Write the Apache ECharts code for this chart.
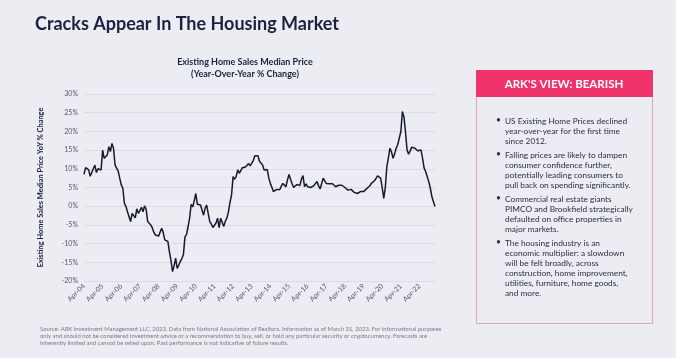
<!DOCTYPE html>
<html><head><meta charset="utf-8">
<script src="https://cdn.jsdelivr.net/npm/echarts@6/dist/echarts.min.js"></script>
<style>html,body{margin:0;padding:0;background:#ecedf3;}#c{width:676px;height:358px;}</style>
</head><body><div id="c"></div>
<script>
// Monthly series, Apr-2004 .. Feb-2023 (YoY % change)
const startYear = 2004, startMonth = 3; // April (0-based)
const yoyValues = [
  8.5, 10.3, 10.0, 9.7, 8.0, 9.0, 9.2, 11.0, 9.0, 10.0, 9.8, 9.7,
  15.0, 12.8, 12.6, 13.7, 15.9, 14.6, 16.8, 15.5, 11.0, 10.2, 9.4, 7.5,
  5.7, 4.8, 0.8, -0.1, -1.5, -2.8, -4.1, -1.9, -2.4, -3.1, -0.7, -1.9,
  -1.2, -0.3, -1.5, 0.1, -0.8, -4.1, -4.5, -5.0, -5.8, -7.0, -7.7, -8.1,
  -8.0, -7.5, -5.9, -7.0, -9.0, -9.2, -9.4, -12.2, -14.5, -17.5, -16.0, -13.9,
  -16.6, -15.8, -14.8, -14.0, -13.0, -8.2, -7.6, -5.5, -3.2, 0.5, -0.2, 1.5,
  3.4, 0.5, 0.8, 0.3, 0.5, -2.4, -0.5, 0.3, -2.0, -4.1, -4.8, -5.7,
  -6.1, -4.5, -3.2, -5.7, -3.2, -3.5, -5.4, -4.0, -3.2, -1.5, 1.0, 3.0,
  7.9, 7.2, 8.0, 9.7, 8.8, 8.4, 10.3, 9.8, 10.5, 11.0, 11.4, 10.8,
  11.5, 12.2, 13.5, 13.6, 13.5, 12.0, 11.5, 11.0, 9.7, 10.2, 9.8, 7.5,
  6.1, 5.0, 3.9, 4.2, 4.5, 4.7, 4.4, 5.3, 6.1, 5.6, 5.2, 7.0,
  8.5, 7.2, 6.0, 5.0, 5.4, 5.8, 6.1, 5.5, 7.2, 8.2, 5.2, 6.0,
  5.2, 4.8, 5.0, 5.3, 5.5, 6.0, 6.6, 5.5, 4.6, 6.0, 7.5, 6.8,
  6.1, 6.3, 6.0, 6.4, 6.0, 5.6, 5.2, 5.4, 5.6, 5.8, 5.6, 5.3,
  5.0, 4.6, 4.3, 3.9, 4.5, 4.1, 3.7, 3.9, 3.4, 3.6, 3.9, 3.7,
  3.9, 4.4, 4.7, 4.5, 5.4, 6.1, 5.6, 6.8, 7.4, 8.1, 8.0, 7.5,
  5.0, 2.1, 5.0, 10.6, 13.0, 15.5, 14.5, 12.8, 14.0, 15.5, 16.5, 16.8,
  19.9, 25.3, 23.9, 19.9, 15.0, 13.9, 14.8, 15.8, 15.6, 15.5, 15.2, 14.8,
  14.5, 15.0, 12.8, 10.2, 9.2, 7.9, 6.5, 4.8, 2.5, 2.1, -0.1
];
const monthNames = ['Jan','Feb','Mar','Apr','May','Jun','Jul','Aug','Sep','Oct','Nov','Dec'];
const categories = yoyValues.map((v, i) => {
  const t = startMonth + i;
  const y = startYear + Math.floor(t / 12);
  return monthNames[t % 12] + '-' + String(y % 100).padStart(2, '0');
});
const yTicks = { min: -20, max: 30, interval: 5 };

const titleText = 'Cracks Appear In The Housing Market';
const chartTitle = 'Existing Home Sales Median Price\n(Year-Over-Year % Change)';
const yAxisTitle = 'Existing Home Sales Median Price YoY % Change';
const panelHeader = "ARK'S VIEW: BEARISH";
const bullets = [
  'US Existing Home Prices declined\nyear-over-year for the first time\nsince 2012.',
  'Falling prices are likely to dampen\nconsumer confidence further,\npotentially leading consumers to\npull back on spending significantly.',
  'Commercial real estate giants\nPIMCO and Brookfield strategically\ndefaulted on office properties in\nmajor markets.',
  'The housing industry is an\neconomic multiplier: a slowdown\nwill be felt broadly, across\nconstruction, home improvement,\nutilities, furniture, home goods,\nand more.'
];
const footer = 'Source: ARK Investment Management LLC, 2023. Data from National Association of Realtors. Information as of March 31, 2023. For informational purposes\nonly and should not be considered investment advice or a recommendation to buy, sell, or hold any particular security or cryptocurrency. Forecasts are\ninherently limited and cannot be relied upon. Past performance is not indicative of future results.';

const FONT = 'Lato';
const chart = echarts.init(document.getElementById('c'));

const graphics = [
  { type: 'text', left: 35, top: 15, style: { text: titleText, font: 'bold 18px ' + FONT, fill: '#1c2140' } },
  { type: 'text', style: { x: 245, y: 56, text: chartTitle, textAlign: 'center', font: 'bold 9px ' + FONT, fill: '#1c2140', lineHeight: 12 } },
  { type: 'rect', shape: { x: 476.5, y: 70.5, width: 176, height: 253 }, style: { fill: 'none', stroke: '#e7a3bb', lineWidth: 1 } },
  { type: 'rect', shape: { x: 476, y: 70, width: 177, height: 27 }, style: { fill: '#f0346b' } },
  { type: 'text', style: { x: 564, y: 84, text: panelHeader, textAlign: 'center', textVerticalAlign: 'middle', font: 'bold 11.5px ' + FONT, fill: '#ffffff' } },
  { type: 'text', left: 40, top: 325, style: { text: footer, font: '5.9px ' + FONT, fill: '#77798a', lineHeight: 7.2 } }
];
let by = 116;
bullets.forEach(b => {
  const n = b.split('\n').length;
  graphics.push({ type: 'text', style: { x: 496, y: by, text: '•', font: '8.5px ' + FONT, fill: '#2a2d45' } });
  graphics.push({ type: 'text', style: { x: 505, y: by, text: b, font: '8.3px ' + FONT, fill: '#2a2d45', lineHeight: 10 } });
  by += n * 10 + 4;
});

chart.setOption({
  backgroundColor: '#ecedf3',
  animation: false,
  grid: { left: 84, right: 241, top: 94, bottom: 77 },
  xAxis: {
    type: 'category', data: categories, boundaryGap: false,
    axisLine: { show: false }, axisTick: { show: false },
    axisLabel: { interval: (i) => i % 12 === 0, rotate: 45, fontSize: 7, color: '#555868', fontFamily: FONT, margin: 4 },
    splitLine: { show: false }
  },
  yAxis: {
    type: 'value', min: yTicks.min, max: yTicks.max, interval: yTicks.interval,
    name: yAxisTitle, nameLocation: 'middle', nameRotate: 90, nameGap: 40,
    nameTextStyle: { fontSize: 7.4, fontWeight: 'bold', color: '#1c2140', fontFamily: FONT },
    axisLine: { show: false }, axisTick: { show: false },
    axisLabel: { formatter: '{value}%', fontSize: 7, color: '#555868', fontFamily: FONT, margin: 6 },
    splitLine: { lineStyle: { color: '#d9dbe6', width: 1 } }
  },
  series: [{
    type: 'line', data: yoyValues, symbol: 'none',
    lineStyle: { color: '#171a2e', width: 1.5 }
  }],
  graphic: graphics
});
</script></body></html>
